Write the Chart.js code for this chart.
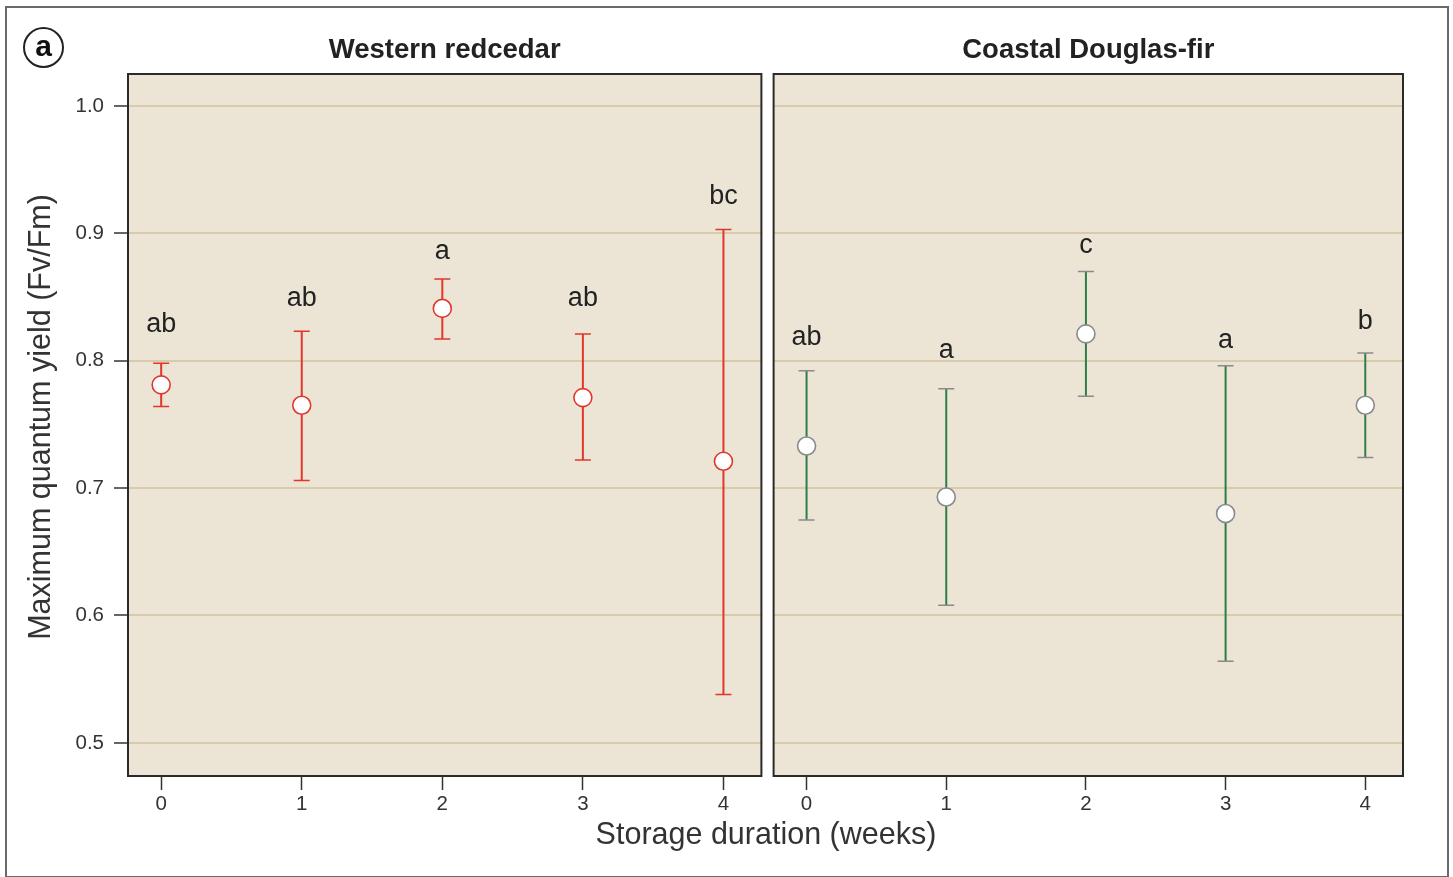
<!DOCTYPE html>
<html>
<head>
<meta charset="utf-8">
<script src="https://cdn.jsdelivr.net/npm/chart.js@4/dist/chart.umd.min.js"></script>
<style>
  html,body{margin:0;padding:0;background:#fff;}
  #wrap{position:relative;width:1453px;height:877px;overflow:hidden;font-family:"Liberation Sans",Arial,sans-serif;}
  #frame{position:absolute;left:5px;top:6px;width:1440px;height:868px;border:2px solid #6a6a6a;box-sizing:content-box;}
  #c1{position:absolute;left:0;top:0;}
  #c2{position:absolute;left:763px;top:0;}
  #tag{position:absolute;left:23px;top:27px;width:37px;height:37px;border:2px solid #222;border-radius:50%;text-align:center;line-height:34px;font-weight:bold;font-size:30px;color:#111;}
  #xtitle{position:absolute;left:0;width:1532px;top:816px;text-align:center;font-size:30.5px;color:#333;}
</style>
</head>
<body>
<div id="wrap">
  <div id="frame"></div>
  <canvas id="c1" width="772" height="877"></canvas>
  <canvas id="c2" width="690" height="877"></canvas>
  <div id="tag">a</div>
  <div id="xtitle">Storage duration (weeks)</div>
</div>
<script>
// ---- data ----
const weeks = [0, 1, 2, 3, 4];
const yTicks = [0.5, 0.6, 0.7, 0.8, 0.9, 1.0];
const panelTitles = ["Western redcedar", "Coastal Douglas-fir"];
const yAxisTitle = "Maximum quantum yield (Fv/Fm)";

const redcedarMean  = [0.781, 0.765, 0.841, 0.771, 0.721];
const redcedarUpper = [0.798, 0.823, 0.864, 0.821, 0.903];
const redcedarLower = [0.764, 0.706, 0.817, 0.722, 0.538];
const redcedarLetters = ["ab", "ab", "a", "ab", "bc"];
const redcedarLetterY = [0.828, 0.849, 0.886, 0.849, 0.929];

const douglasMean  = [0.733, 0.693, 0.821, 0.680, 0.765];
const douglasUpper = [0.792, 0.778, 0.870, 0.796, 0.806];
const douglasLower = [0.675, 0.608, 0.772, 0.564, 0.724];
const douglasLetters = ["ab", "a", "c", "a", "b"];
const douglasLetterY = [0.818, 0.808, 0.890, 0.816, 0.831];

const Y_MIN = 0.474, Y_MAX = 1.025, X_MIN = -0.236, X_MAX = 4.27;
const FONT = "'Liberation Sans', Arial, sans-serif";

const panelPlugin = {
  id: 'panel',
  beforeDraw(chart, args, opts) {
    const {ctx, chartArea: a} = chart;
    ctx.save();
    ctx.fillStyle = '#ece5d5';
    ctx.fillRect(a.left, a.top, a.right - a.left, a.bottom - a.top);
    ctx.restore();
  },
  afterDraw(chart, args, opts) {
    const {ctx, chartArea: a} = chart;
    ctx.save();
    ctx.strokeStyle = '#2a2a2a';
    ctx.lineWidth = 2;
    ctx.strokeRect(a.left, a.top, a.right - a.left, a.bottom - a.top);
    ctx.fillStyle = '#222';
    ctx.font = 'bold 27.5px ' + FONT;
    ctx.textAlign = 'center';
    ctx.textBaseline = 'middle';
    ctx.fillText(opts.title, (a.left + a.right) / 2, 50);
    if (opts.yTitle) {
      ctx.translate(42, 417);
      ctx.rotate(-Math.PI / 2);
      ctx.fillStyle = '#333';
      ctx.font = '30.5px ' + FONT;
      ctx.fillText(opts.yTitle, 0, 0);
    }
    ctx.restore();
  },
  beforeDatasetsDraw(chart, args, opts) {
    const {ctx} = chart;
    const xs = chart.scales.x, ys = chart.scales.y;
    ctx.save();
    opts.upper.forEach((u, i) => {
      const x = xs.getPixelForValue(weeks[i]);
      const yu = ys.getPixelForValue(u);
      const yl = ys.getPixelForValue(opts.lower[i]);
      ctx.strokeStyle = opts.lineColor;
      ctx.lineWidth = 2;
      ctx.beginPath(); ctx.moveTo(x, yu); ctx.lineTo(x, yl); ctx.stroke();
      ctx.strokeStyle = opts.capColor;
      ctx.lineWidth = 1.5;
      ctx.beginPath();
      ctx.moveTo(x - 8, yu); ctx.lineTo(x + 8, yu);
      ctx.moveTo(x - 8, yl); ctx.lineTo(x + 8, yl);
      ctx.stroke();
    });
    ctx.restore();
  },
  afterDatasetsDraw(chart, args, opts) {
    const {ctx} = chart;
    const xs = chart.scales.x, ys = chart.scales.y;
    ctx.save();
    ctx.fillStyle = '#222';
    ctx.font = '27px ' + FONT;
    ctx.textAlign = 'center';
    ctx.textBaseline = 'middle';
    opts.letters.forEach((t, i) => {
      ctx.fillText(t, xs.getPixelForValue(weeks[i]), ys.getPixelForValue(opts.letterY[i]));
    });
    ctx.restore();
  }
};

function makeChart(id, mean, upper, lower, letters, letterY, title, color, capColor, markerColor, left) {
  const showY = left;
  return new Chart(document.getElementById(id), {
    type: 'scatter',
    data: {
      datasets: [{
        data: weeks.map((w, i) => ({x: w, y: mean[i]})),
        pointRadius: 9,
        pointHoverRadius: 9,
        pointBackgroundColor: '#ffffff',
        pointBorderColor: markerColor,
        pointBorderWidth: 1.6,
        showLine: false
      }]
    },
    options: {
      responsive: false,
      animation: false,
      devicePixelRatio: 1,
      layout: {padding: left ? {left: 20, right: 6, top: 74, bottom: 0} : {left: 8, right: 50, top: 74, bottom: 0}},
      plugins: {
        legend: {display: false},
        tooltip: {enabled: false},
        panel: {title, upper, lower, letters, letterY, lineColor: color, capColor, yTitle: showY ? yAxisTitle : null}
      },
      scales: {
        x: {
          type: 'linear', min: X_MIN, max: X_MAX,
          afterBuildTicks: s => { s.ticks = weeks.map(v => ({value: v})); },
          afterFit: s => { s.height = 101; },
          grid: {drawOnChartArea: false, drawTicks: true, tickLength: 14, tickColor: '#333', tickWidth: 1.5},
          border: {display: false},
          ticks: {color: '#333', font: {size: 20.5, family: FONT}, padding: 2, callback: v => String(v)}
        },
        y: {
          min: Y_MIN, max: Y_MAX,
          afterBuildTicks: s => { s.ticks = yTicks.map(v => ({value: v})); },
          afterFit: s => { s.width = showY ? 108 : 0; },
          grid: {color: '#d8cbab', lineWidth: 2, drawTicks: showY, tickLength: 14, tickColor: '#333', tickWidth: 1.5},
          border: {display: false},
          ticks: {display: showY, color: '#333', font: {size: 20.5, family: FONT}, padding: 10, callback: v => v.toFixed(1)}
        }
      }
    },
    plugins: [panelPlugin]
  });
}

makeChart('c1', redcedarMean, redcedarUpper, redcedarLower, redcedarLetters, redcedarLetterY,
  panelTitles[0], '#e0362c', '#e0362c', '#e0362c', true);
makeChart('c2', douglasMean, douglasUpper, douglasLower, douglasLetters, douglasLetterY,
  panelTitles[1], '#2f7d46', '#8a8a8a', '#8a8a8a', false);
</script>
</body>
</html>
